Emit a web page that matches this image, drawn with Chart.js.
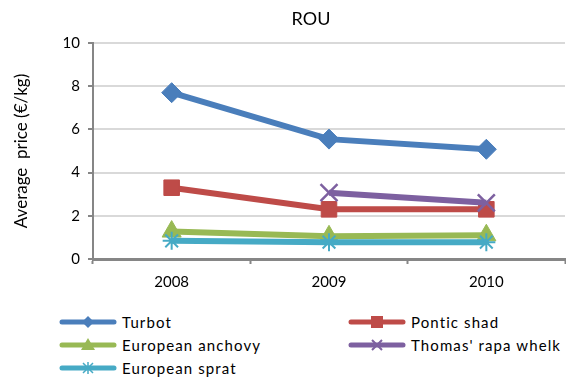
<!DOCTYPE html>
<html><head><meta charset="utf-8">
<script src="https://cdn.jsdelivr.net/npm/chart.js@4/dist/chart.umd.min.js"></script>
<style>
html,body{margin:0;padding:0;background:#fff;width:566px;height:386px;overflow:hidden;font-family:Lato,sans-serif;color:#000;}
#wrap{position:absolute;left:0;top:0;width:566px;height:300px;}
#title{position:absolute;top:8px;left:211px;width:200px;text-align:center;font-size:18px;line-height:20px;}
.leg{position:absolute;height:20px;display:flex;align-items:center;font-size:15px;letter-spacing:1.1px;white-space:nowrap;}
.leg svg{margin-right:5px;}
</style></head>
<body>
<div id="wrap"><canvas id="c"></canvas></div>
<div id="title">ROU</div>
<div id="legend"></div>
<script>
const categories = ['2008', '2009', '2010'];
const seriesNames = ['Turbot', 'Pontic shad', 'European anchovy', "Thomas' rapa whelk", 'European sprat'];
const turbot = [7.7, 5.55, 5.08];
const ponticShad = [3.3, 2.3, 2.3];
const europeanAnchovy = [1.27, 1.05, 1.1];
const thomasRapaWhelk = [null, 3.07, 2.6];
const europeanSprat = [0.84, 0.78, 0.78];
const yTicks = [0, 2, 4, 6, 8, 10];
const yTitle = 'Average  price (€/kg)';

const seriesValues = [turbot, ponticShad, europeanAnchovy, thomasRapaWhelk, europeanSprat];
const colors = ['#4A7EBB', '#BE4B48', '#98B954', '#7D60A0', '#46AAC5'];
const styles = [
  {pointStyle: 'rectRot', pointRadius: 10, pointBorderWidth: 1},
  {pointStyle: 'rect', pointRadius: 11, pointBorderWidth: 1},
  {pointStyle: 'triangle', pointRadius: 11, pointBorderWidth: 1},
  {pointStyle: 'crossRot', pointRadius: 12, pointBorderWidth: 2.5},
  {pointStyle: 'star', pointRadius: 9, pointBorderWidth: 2}
];

const datasets = seriesNames.map((name, i) => Object.assign({
  label: name,
  data: seriesValues[i],
  borderColor: colors[i],
  backgroundColor: colors[i],
  pointBackgroundColor: colors[i],
  pointBorderColor: colors[i],
  borderWidth: 6,
  tension: 0,
  spanGaps: false,
  clip: false,
  order: seriesNames.length - i
}, styles[i]));

new Chart(document.getElementById('c'), {
  type: 'line',
  data: {labels: categories, datasets: datasets},
  options: {
    responsive: true,
    maintainAspectRatio: false,
    animation: false,
    layout: {autoPadding: false, padding: {top: 43, right: 1, left: 0, bottom: 0}},
    plugins: {legend: {display: false}, tooltip: {enabled: false}, title: {display: false}},
    scales: {
      x: {
        offset: true,
        afterFit: s => { s.height = 41; s.paddingLeft = 0; s.paddingRight = 0; },
        grid: {display: true, drawOnChartArea: false, drawTicks: true, tickLength: 5, tickColor: '#868686', tickWidth: 2, offset: true},
        border: {display: true, color: '#868686', width: 3},
        ticks: {color: '#000', font: {family: 'Lato', size: 15}, padding: 9}
      },
      y: {
        min: 0, max: 10,
        afterFit: s => { s.width = 93; s.paddingTop = 0; s.paddingBottom = 0; },
        afterBuildTicks: s => { s.ticks = yTicks.map(v => ({value: v})); },
        grid: {color: '#D9D9D9', lineWidth: 2, tickLength: 5, tickColor: '#868686', tickWidth: 2},
        border: {display: true, color: '#868686', width: 2},
        ticks: {color: '#000', font: {family: 'Lato', size: 15}, padding: 8},
        title: {display: true, text: yTitle, color: '#000', font: {family: 'Lato', size: 17}, padding: {top: 11, bottom: 0}}
      }
    }
  }
});

// HTML legend, two columns, row-major
function markerSvg(style, color) {
  const cx = 29, cy = 7;
  switch (style) {
    case 'rectRot': return `<polygon points="${cx},${cy-6} ${cx+6},${cy} ${cx},${cy+6} ${cx-6},${cy}" fill="${color}"/>`;
    case 'rect': return `<rect x="${cx-6}" y="${cy-6}" width="12" height="12" fill="${color}"/>`;
    case 'triangle': return `<polygon points="${cx},${cy-7} ${cx+7},${cy+5} ${cx-7},${cy+5}" fill="${color}"/>`;
    case 'crossRot': return `<path d="M${cx-5} ${cy-5}L${cx+5} ${cy+5}M${cx+5} ${cy-5}L${cx-5} ${cy+5}" stroke="${color}" stroke-width="2"/>`;
    case 'star': return `<path d="M${cx-5} ${cy-5}L${cx+5} ${cy+5}M${cx+5} ${cy-5}L${cx-5} ${cy+5}M${cx} ${cy-6}L${cx} ${cy+6}" stroke="${color}" stroke-width="1.5"/>`;
  }
  return '';
}
const legendEl = document.getElementById('legend');
const colX = [59, 348];
const rowY = [312, 335, 358];
seriesNames.forEach((name, i) => {
  const d = document.createElement('div');
  d.className = 'leg';
  d.style.left = colX[i % 2] + 'px';
  d.style.top = rowY[Math.floor(i / 2)] + 'px';
  d.innerHTML = `<svg width="58" height="14"><line x1="3" y1="7" x2="55" y2="7" stroke="${colors[i]}" stroke-width="5" stroke-linecap="round"/>${markerSvg(styles[i].pointStyle, colors[i])}</svg><span></span>`;
  d.querySelector('span').textContent = name;
  legendEl.appendChild(d);
});
</script>
</body></html>
